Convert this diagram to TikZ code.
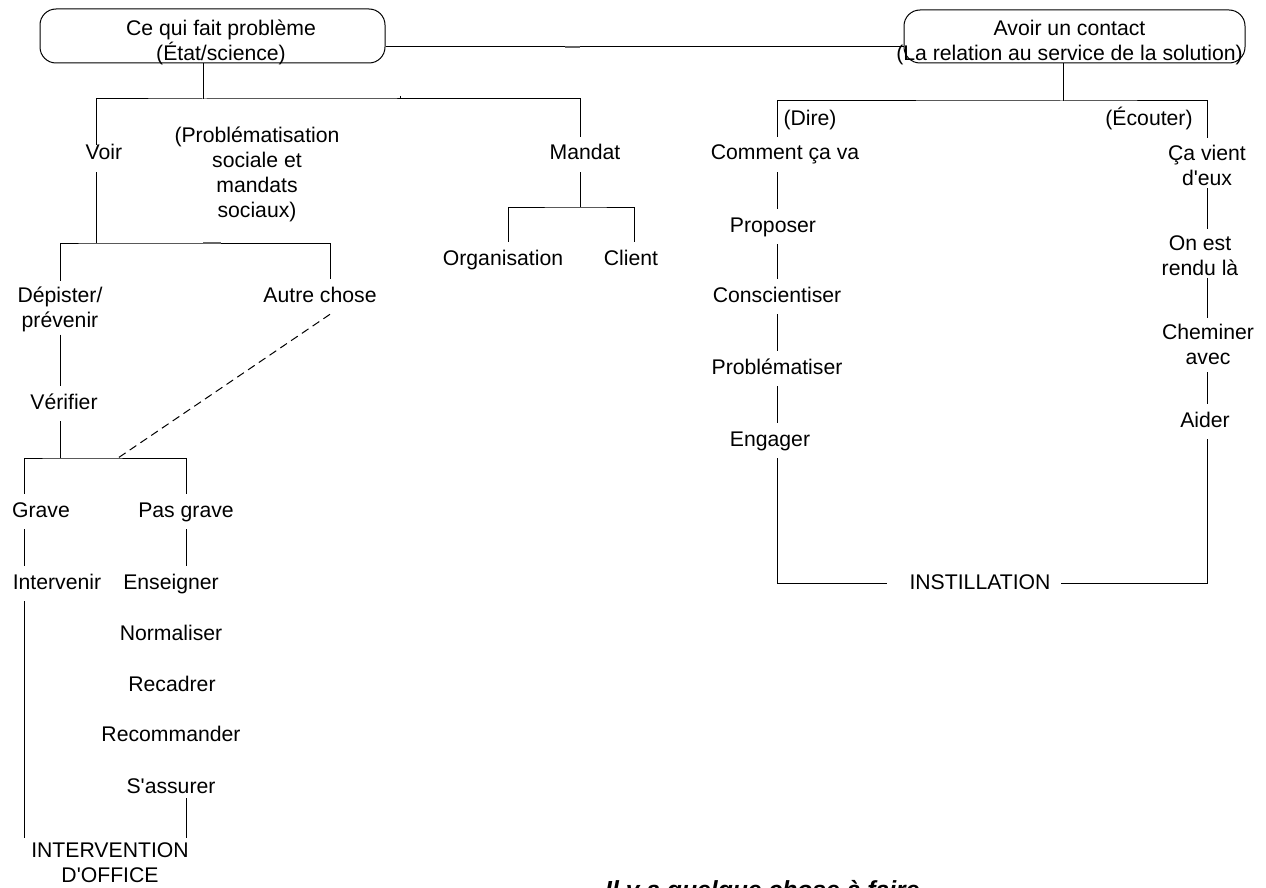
\documentclass[tikz,border=0pt]{standalone}
\usepackage{fontspec}
\setmainfont{Liberation Sans}
\usetikzlibrary{calc}
\newcommand{\mystr}{\rule{0pt}{15.3pt}}
\begin{document}
\begin{tikzpicture}[x=1pt,y=-1pt,
  every node/.style={inner sep=0pt, font=\fontsize{21.2pt}{25pt}\selectfont},
  lbl/.style={anchor=base, text height=15.3pt, text depth=4.3pt, outer xsep=0pt, outer ysep=8pt},
  mlbl/.style={anchor=north, align=center, outer xsep=0pt, outer ysep=3pt},
  conn/.style={draw=black, line width=1pt},
  cbox/.style={draw=black, line width=1pt, rounded corners=16pt},
  smudge/.style={draw=black!60, line width=2pt}]
\useasboundingbox (0,0) rectangle (1266,888);
\clip (0,0) rectangle (1266,888);

% ---------- boxes ----------
\node[cbox, minimum width=345pt, minimum height=54pt] (lbox) at (212.5,36) {};
\node[mlbl] (ltxt) at (221,16.7) {\mystr Ce qui fait problème\\(État/science)};
\node[cbox, minimum width=341pt, minimum height=53pt] (rbox) at (1074.5,36.5) {};
\node[mlbl] (rtxt) at (1069.5,16.7) {\mystr Avoir un contact\\(La relation au service de la solution)};

% ---------- column coordinates and junctions ----------
\coordinate (cV) at (96,0);
\coordinate (cM) at (580,0);
\coordinate (cDep) at (60,0);
\coordinate (cAut) at (330,0);
\coordinate (cG) at (24,0);
\coordinate (cP) at (186,0);
\coordinate (cO) at (508,0);
\coordinate (cC) at (634,0);
\coordinate (cL) at (777,0);
\coordinate (cR) at (1207,0);
\coordinate (jL) at (203,99);
\coordinate (jV) at (96,243);
\coordinate (jD) at (118,458);
\coordinate (jG) at (60,458);
\coordinate (jM) at (580,207);
\coordinate (jR) at (1063,101);

% ---------- left nodes ----------
\node[lbl] (voir) at (104,160) {Voir};
\node[mlbl] (prob) at (257,123.7) {\mystr(Problématisation\\sociale et\\mandats\\sociaux)};
\node[lbl] (mandat) at (585,160) {Mandat};
\node[lbl] (org) at (503,265) {Organisation};
\node[lbl] (client) at (631,265) {Client};
\node[mlbl] (dep) at (60,283.7) {\mystr Dépister/\\prévenir};
\node[lbl] (autre) at (320,302) {Autre chose};
\node[lbl] (verif) at (64,409) {Vérifier};
\node[lbl] (grave) at (41,517) {Grave};
\node[lbl] (pasgrave) at (186,517) {Pas grave};
\node[lbl] (interv) at (57,589) {Intervenir};
\node[lbl] (ens) at (171,589) {Enseigner};
\node[lbl] (norm) at (171,640) {Normaliser};
\node[lbl] (recad) at (172,691) {Recadrer};
\node[lbl] (recom) at (171,741) {Recommander};
\node[lbl] (sass) at (171,793) {S\textquotesingle{}assurer};
\node[mlbl] (iof) at (110,838.7) {\mystr INTERVENTION\\D\textquotesingle{}OFFICE};

% ---------- right nodes ----------
\node[lbl] (dire) at (810,126) {(Dire)};
\node[lbl] (ecouter) at (1149,126) {(Écouter)};
\node[lbl] (cca) at (785,160) {Comment ça va};
\node[lbl] (prop) at (773,232) {Proposer};
\node[lbl] (consc) at (777,302) {Conscientiser};
\node[lbl] (probz) at (777,374) {Problématiser};
\node[lbl] (eng) at (770,446) {Engager};
\node[lbl] (inst) at (980,589) {INSTILLATION};
\node[mlbl] (cavient) at (1207,141.7) {\mystr Ça vient\\d\textquotesingle{}eux};
\node[mlbl] (onest) at (1200,231.7) {\mystr On est\\rendu là};
\node[mlbl] (chem) at (1208,320.7) {\mystr Cheminer\\avec};
\node[lbl] (aider) at (1205,427) {Aider};

% ---------- bottom caption ----------
\node[anchor=base west, font=\fontsize{24.7pt}{29pt}\selectfont\bfseries\itshape] (faire) at (605,898) {Il y a quelque chose à faire};

% ---------- connectors ----------
\draw[conn] ($(lbox.east)+(0,11)$) -- ($(rbox.west)+(0,10.5)$);
\draw[smudge] (565,47) -- (580,47);

\draw[conn] (lbox.south -| jL) -- (jL);
\draw[conn] ($(voir.north -| cV)+(0,8)$) |- (jL) -| (mandat.north -| cM);
\draw[conn] (400,96) -- (400,99);
\draw[conn] (voir.south -| cV) -- (jV);
\draw[conn] ($(dep.north -| cDep)+(0,-3)$) |- (jV) -| (autre.north -| cAut);
\draw[smudge] (203,243) -- (221,243);
\draw[conn, dash pattern=on 8pt off 5pt] (autre.south -| cAut) -- (jD);
\draw[conn] (dep.south -| cDep) -- (verif.north -| cDep);
\draw[conn] (verif.south -| cDep) -- (jG);
\draw[conn] (grave.north -| cG) |- (jG) -| (pasgrave.north -| cP);
\draw[conn] (grave.south -| cG) -- (interv.north -| cG);
\draw[conn] (pasgrave.south -| cP) -- (ens.north -| cP);
\draw[conn] (interv.south -| cG) -- ($(iof.north -| cG)+(0,-1)$);
\draw[conn] ($(sass.south -| cP)+(0,-7)$) -- ($(iof.north -| cP)+(0,-1)$);
\draw[conn] (mandat.south -| cM) -- (jM);
\draw[conn] (org.north -| cO) |- (jM) -| (client.north -| cC);

\draw[conn] (rbox.south -| jR) -- (jR);
\draw[conn] (cca.north -| cL) |- (jR) -| ($(cavient.north -| cR)+(0,-3.7)$);
\draw[conn] (cca.south -| cL) -- (prop.north -| cL);
\draw[conn] (prop.south -| cL) -- (consc.north -| cL);
\draw[conn] (consc.south -| cL) -- (probz.north -| cL);
\draw[conn] (probz.south -| cL) -- (eng.north -| cL);
\draw[conn] (eng.south -| cL) |- ($(inst.west)+(-23,0)$);
\draw[conn] (aider.south -| cR) |- ($(inst.east)+(11,0)$);
\draw[conn] (cavient.south -| cR) -- ($(onest.north -| cR)+(0,-3)$);
\draw[conn] (onest.south -| cR) -- ($(chem.north -| cR)+(0,-3)$);
\draw[conn] ($(chem.south -| cR)+(0,5)$) -- (aider.north -| cR);
\end{tikzpicture}
\end{document}
